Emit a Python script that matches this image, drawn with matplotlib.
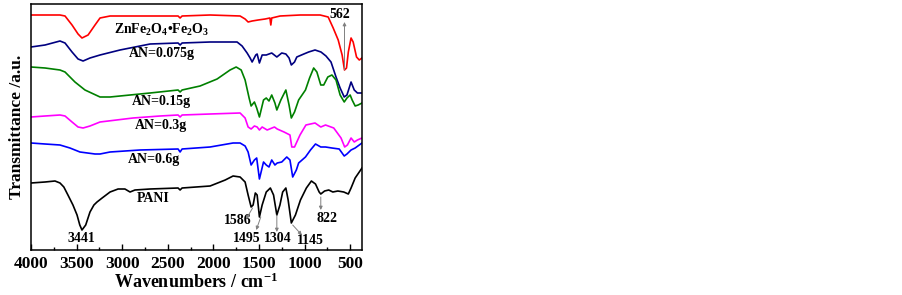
import matplotlib
matplotlib.use("Agg")
import matplotlib.pyplot as plt

plt.rcParams['font.family'] = ['Liberation Serif', 'DejaVu Serif']
plt.rcParams['font.weight'] = 'bold'
plt.rcParams['mathtext.fontset'] = 'custom'
plt.rcParams['mathtext.rm'] = 'Liberation Serif:bold'
plt.rcParams['mathtext.bf'] = 'Liberation Serif:bold'
plt.rcParams['mathtext.it'] = 'Liberation Serif:bold:italic'

# ---------------- data (wavenumber cm^-1, transmittance a.u.) ----------------
red_wn = [4000, 3846, 3682, 3627, 3550, 3484, 3441, 3374, 3298, 3243, 3133, 2804, 2420, 2387, 2365,
          2343, 2036, 1707, 1652, 1619, 1575, 1509, 1432, 1380, 1370, 1360, 1268, 1048, 829, 741,
          686, 631, 588, 562, 540, 520, 490, 467, 430, 400, 370]
red_t = [235, 235, 235, 234, 225, 216, 212, 215, 225, 232, 234, 234, 234, 234, 232,
         234, 235, 234, 231, 228, 229, 230, 231, 232, 225, 232, 234, 235, 235, 233,
         222, 210, 195, 180, 182, 198, 212, 208, 193, 190, 192]

navy_wn = [4000, 3846, 3682, 3627, 3550, 3484, 3429, 3353, 3243, 3024, 2694, 2387, 2365, 2343, 2036,
           1740, 1685, 1630, 1597, 1575, 1535, 1520, 1495, 1465, 1420, 1390, 1360, 1304, 1250, 1205,
           1170, 1145, 1110, 1085, 1008, 955, 885, 820, 765, 710, 655, 610, 565, 535, 490, 455, 420, 370]
navy_t = [203, 205, 209, 207, 198, 191, 189, 192, 195, 200, 206, 207, 205, 207, 208,
          208, 204, 197, 192, 188, 195, 196, 187, 195, 195, 196, 197, 193, 197, 196,
          192, 185, 188, 193, 196, 198, 200, 198, 194, 188, 173, 162, 153, 155, 168, 160, 157, 157]

green_wn = [4000, 3846, 3682, 3627, 3518, 3408, 3243, 3133, 2914, 2694, 2387, 2365, 2343, 2146, 1959,
            1817, 1750, 1695, 1652, 1608, 1586, 1550, 1525, 1495, 1450, 1420, 1390, 1360, 1325, 1304,
            1260, 1205, 1170, 1145, 1110, 1065, 990, 945, 900, 865, 822, 790, 745, 700, 655, 610,
            565, 535, 500, 478, 445, 412, 370]
green_t = [183, 182, 180, 178, 168, 160, 153, 153, 155, 157, 160, 158, 160, 164, 171,
           180, 183, 180, 170, 152, 144, 148, 142, 133, 150, 152, 149, 155, 147, 140,
           150, 160, 145, 132, 138, 150, 160, 172, 182, 178, 165, 165, 173, 175, 170, 155,
           148, 152, 155, 150, 144, 145, 147]

mag_wn = [4000, 3846, 3682, 3627, 3550, 3484, 3429, 3353, 3243, 2881, 2585, 2387, 2365, 2343, 2036,
          1707, 1652, 1619, 1586, 1550, 1520, 1495, 1465, 1410, 1330, 1300, 1225, 1160, 1140, 1110,
          1050, 985, 885, 822, 770, 680, 600, 560, 530, 490, 455, 420, 370]
mag_t = [133, 134, 135, 134, 128, 123, 122, 124, 128, 132, 134, 135, 133, 135, 136,
         137, 132, 123, 121, 124, 123, 120, 123, 120, 123, 121, 118, 115, 103, 103,
         115, 125, 127, 123, 125, 122, 112, 103, 105, 112, 108, 110, 112]

blue_wn = [4000, 3846, 3682, 3573, 3463, 3298, 3243, 3133, 2804, 2387, 2365, 2343, 2036, 1784, 1707,
           1652, 1619, 1586, 1550, 1525, 1495, 1450, 1420, 1390, 1360, 1325, 1300, 1250, 1195, 1160,
           1130, 1090, 1065, 990, 935, 880, 822, 770, 700, 620, 565, 535, 490, 445, 370]
blue_t = [107, 106, 105, 102, 98, 96, 96, 98, 100, 101, 98, 101, 103, 107, 107,
          104, 98, 85, 90, 92, 71, 88, 85, 83, 90, 85, 87, 88, 93, 90,
          73, 80, 87, 93, 100, 106, 103, 103, 102, 101, 94, 96, 100, 102, 107]

pani_wn = [4000, 3846, 3737, 3682, 3640, 3595, 3540, 3495, 3465, 3441, 3400, 3353, 3310, 3276, 3220,
           3133, 3045, 2970, 2914, 2860, 2694, 2387, 2365, 2343, 2036, 1870, 1784, 1707, 1652, 1619,
           1586, 1564, 1540, 1520, 1495, 1465, 1420, 1375, 1340, 1304, 1270, 1240, 1205, 1180, 1145,
           1100, 1045, 980, 925, 880, 840, 822, 780, 735, 690, 635, 570, 520, 490, 445, 370]
pani_t = [67, 68, 69, 67, 63, 55, 45, 35, 25, 20, 25, 38, 45, 48, 52,
          58, 61, 61, 58, 60, 61, 62, 60, 62, 64, 70, 74, 73, 68, 55,
          43, 45, 57, 55, 33, 45, 58, 62, 55, 35, 45, 58, 62, 50, 27,
          35, 50, 62, 69, 66, 58, 56, 59, 60, 58, 59, 58, 56, 62, 72, 82]

series = [
    (red_wn, red_t, '#ff0000'),
    (navy_wn, navy_t, '#000080'),
    (green_wn, green_t, '#008000'),
    (mag_wn, mag_t, '#ff00ff'),
    (blue_wn, blue_t, '#0000ff'),
    (pani_wn, pani_t, '#000000'),
]

curve_labels = [r'ZnFe$_{2}$O$_{4}$•Fe$_{2}$O$_{3}$', 'AN=0.075g', 'AN=0.15g', 'AN=0.3g', 'AN=0.6g', 'PANI']
curve_label_pos = [(2563, 220), (2563, 197), (2575, 148), (2575, 124), (2650, 90), (2662, 52)]

peak_labels = ['3441', '1586', '1495', '1304', '1145', '822', '562']
peak_text_pos = [(3450, 11), (1735, 30), (1635, 12), (1290, 11), (935, 9), (752, 31), (610, 235)]
arrow_from = [None, (1570, 42), (1480, 33), (1304, 35), (1130, 25), (822, 53), (562, 180)]
arrow_to = [None, (1640, 31), (1530, 20), (1304, 18), (1030, 15), (822, 40), (562, 228)]

xticks = [4000, 3500, 3000, 2500, 2000, 1500, 1000, 500]

# ---------------- figure ----------------
fig = plt.figure(figsize=(9.03, 2.95), dpi=100)
ax = fig.add_axes([31 / 903, 45 / 295, 331 / 903, 246 / 295])

for wn, t, c in series:
    ax.plot(wn, t, color=c, lw=1.2)

ax.set_xlim(4000, 370)
ax.set_ylim(0, 246)
ax.set_xticks(xticks)
ax.set_xticks(list(range(3750, 370, -500)), minor=True)
ax.set_yticks([])
ax.tick_params(axis='x', which='major', direction='in', length=4, width=1, labelsize=12.5, pad=4)
ax.tick_params(axis='x', which='minor', direction='in', length=2.5, width=1)
for lab in ax.get_xticklabels():
    lab.set_fontweight('bold')
for sp in ax.spines.values():
    sp.set_linewidth(1.1)

ax.set_xlabel(r'Wavenumbers / cm$^{-1}$', fontsize=13, fontweight='bold', labelpad=1)
ax.set_ylabel('Transmittance /a.u.', fontsize=12.5, fontweight='bold', labelpad=4)

for txt, (x, y) in zip(curve_labels, curve_label_pos):
    ax.text(x, y, txt, fontsize=10, fontweight='bold', ha='center', va='center')

for txt, (x, y), a0, a1 in zip(peak_labels, peak_text_pos, arrow_from, arrow_to):
    ax.text(x, y, txt, fontsize=10, fontweight='bold', ha='center', va='center')
    if a0 is not None:
        ax.annotate('', xy=a1, xytext=a0,
                    arrowprops=dict(arrowstyle='-|>', color='#808080', lw=0.7,
                                    mutation_scale=5, shrinkA=0, shrinkB=0))

fig.savefig('out.png', dpi=100)
